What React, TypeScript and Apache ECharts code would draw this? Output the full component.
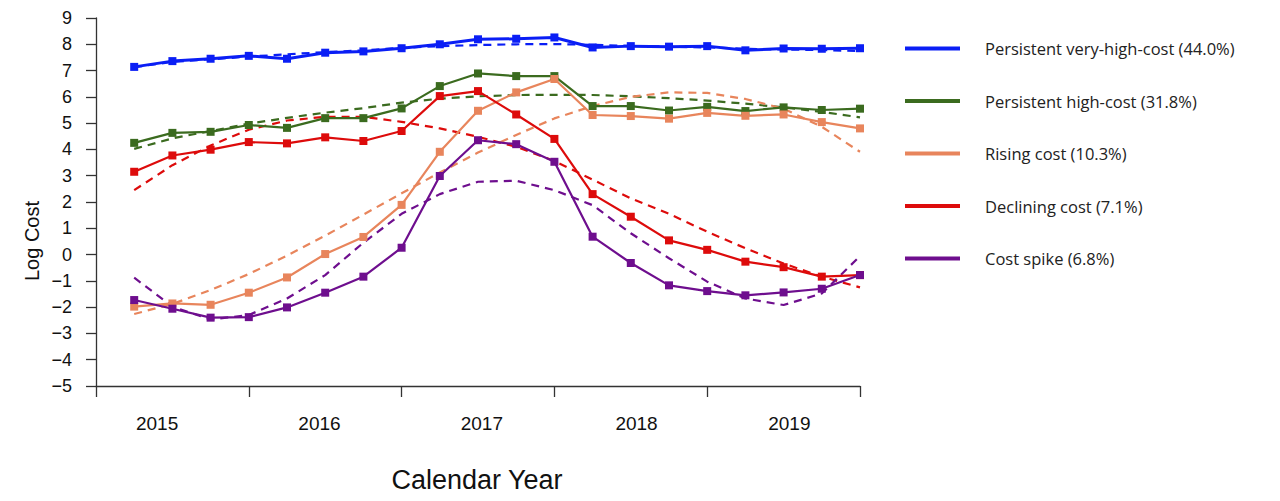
import React, { useEffect, useRef } from "react";
import * as echarts from "echarts";

// Quarter index (1..20), 2015 Q1 .. 2019 Q4
const quarters = [1, 2, 3, 4, 5, 6, 7, 8, 9, 10, 11, 12, 13, 14, 15, 16, 17, 18, 19, 20];
const yearLabels = ["2015", "2016", "2017", "2018", "2019"];
const yearLabelAt = [1.6, 5.85, 10.1, 14.15, 18.15];
const yearTicksAt = [0, 4, 8, 12, 16, 20];

const seriesNames = [
  "Persistent very-high-cost (44.0%)",
  "Persistent high-cost (31.8%)",
  "Rising cost (10.3%)",
  "Declining cost (7.1%)",
  "Cost spike (6.8%)",
];
const seriesColors = ["#0a1ef5", "#3b6b1f", "#e8855c", "#dd0b0b", "#6e0e8e"];

const veryHighObs = [7.14, 7.36, 7.45, 7.56, 7.45, 7.68, 7.73, 7.85, 8.0, 8.19, 8.21, 8.26, 7.88, 7.93, 7.91, 7.93, 7.77, 7.84, 7.83, 7.85];
const veryHighFit = [7.13, 7.33, 7.43, 7.53, 7.62, 7.7, 7.77, 7.86, 7.93, 7.97, 8.0, 8.01, 7.98, 7.94, 7.91, 7.88, 7.83, 7.8, 7.78, 7.74];
const highObs = [4.25, 4.63, 4.67, 4.93, 4.82, 5.19, 5.19, 5.56, 6.41, 6.89, 6.79, 6.79, 5.65, 5.65, 5.48, 5.62, 5.46, 5.6, 5.5, 5.55];
const highFit = [4.02, 4.42, 4.7, 4.98, 5.2, 5.4, 5.57, 5.78, 5.93, 6.02, 6.07, 6.08, 6.07, 6.02, 5.95, 5.86, 5.74, 5.6, 5.43, 5.22];
const risingObs = [-1.98, -1.86, -1.91, -1.45, -0.87, 0.02, 0.67, 1.89, 3.91, 5.47, 6.17, 6.68, 5.31, 5.27, 5.17, 5.39, 5.28, 5.33, 5.04, 4.8];
const risingFit = [-2.26, -1.88, -1.35, -0.74, -0.04, 0.72, 1.52, 2.33, 3.12, 3.88, 4.55, 5.18, 5.65, 6.0, 6.17, 6.15, 5.92, 5.55, 4.86, 3.91];
const decliningObs = [3.15, 3.77, 3.99, 4.28, 4.23, 4.46, 4.32, 4.7, 6.03, 6.22, 5.33, 4.4, 2.3, 1.44, 0.54, 0.18, -0.27, -0.48, -0.84, -0.78];
const decliningFit = [2.45, 3.4, 4.15, 4.75, 5.1, 5.24, 5.24, 5.05, 4.8, 4.48, 4.1, 3.56, 2.85, 2.14, 1.55, 0.87, 0.24, -0.34, -0.84, -1.25];
const spikeObs = [-1.73, -2.06, -2.4, -2.38, -2.01, -1.45, -0.84, 0.26, 2.99, 4.35, 4.2, 3.53, 0.68, -0.32, -1.17, -1.39, -1.55, -1.44, -1.3, -0.78];
const spikeFit = [-0.88, -1.98, -2.47, -2.3, -1.67, -0.78, 0.45, 1.55, 2.3, 2.77, 2.81, 2.45, 1.88, 0.81, -0.14, -1.03, -1.67, -1.92, -1.48, -0.06];

const observed = [veryHighObs, highObs, risingObs, decliningObs, spikeObs];
const fitted = [veryHighFit, highFit, risingFit, decliningFit, spikeFit];

export default function App() {
  const ref = useRef<HTMLDivElement>(null);
  useEffect(() => {
    if (!ref.current) return;
    const chart = echarts.init(ref.current, undefined, { renderer: "svg" });
    const toData = (vals: number[]) => quarters.map((q, i) => [q, vals[i]]);
    const series: any[] = [];
    fitted.forEach((vals, k) => {
      series.push({
        type: "line",
        name: seriesNames[k],
        data: toData(vals),
        symbol: "none",
        smooth: false,
        z: 2,
        lineStyle: { color: seriesColors[k], width: 2.2, type: [8, 6] },
        itemStyle: { color: seriesColors[k] },
      });
    });
    observed.forEach((vals, k) => {
      series.push({
        type: "line",
        name: seriesNames[k],
        data: toData(vals),
        symbol: "rect",
        symbolSize: 8,
        z: 3,
        lineStyle: { color: seriesColors[k], width: k === 0 ? 3 : 2.2 },
        itemStyle: { color: seriesColors[k] },
      });
    });

    chart.setOption({
      animation: false,
      backgroundColor: "#ffffff",
      grid: { left: 96, right: 420, top: 18, bottom: 115, containLabel: false },
      xAxis: {
        type: "value",
        min: 0,
        max: 20,
        axisLine: { show: true, onZero: false, lineStyle: { color: "#333", width: 1.3 } },
        axisTick: { show: true, customValues: yearTicksAt, length: 11, lineStyle: { color: "#333", width: 1.3 } },
        axisLabel: {
          show: true,
          customValues: yearLabelAt,
          margin: 28,
          formatter: (v: number) => {
            const idx = yearLabelAt.findIndex((p) => Math.abs(p - v) < 1e-6);
            return idx >= 0 ? yearLabels[idx] : "";
          },
          color: "#111",
          fontSize: 19,
          fontFamily: "'Liberation Sans Narrow', 'Liberation Sans', Arial, sans-serif",
        },
        splitLine: { show: false },
      },
      yAxis: {
        type: "value",
        min: -5,
        max: 9,
        interval: 1,
        axisLine: { show: true, onZero: false, lineStyle: { color: "#333", width: 1.3 } },
        axisTick: { show: true, length: 10, lineStyle: { color: "#333", width: 1.3 } },
        axisLabel: {
          margin: 24,
          color: "#111",
          fontSize: 18,
          fontFamily: "'Liberation Sans', Arial, sans-serif",
          formatter: (v: number) => (v < 0 ? "\u2212" + Math.abs(v) : String(v)),
        },
        splitLine: { show: false },
      },
      legend: {
        data: seriesNames,
        orient: "vertical",
        left: 900,
        top: 33,
        itemWidth: 55,
        itemHeight: 4,
        itemGap: 31.5,
        icon: "rect",
        textStyle: {
          fontFamily: "'Open Sans', sans-serif",
          fontSize: 16.5,
          color: "#222",
          lineHeight: 21,
          padding: [0, 0, 0, 20],
        },
        selectedMode: false,
      },
      graphic: [
        {
          type: "text",
          x: 32,
          y: 241,
          rotation: Math.PI / 2,
          style: {
            text: "Log Cost",
            font: "20px 'Liberation Sans', Arial, sans-serif",
            fill: "#111",
            align: "center",
            verticalAlign: "middle",
          },
        },
        {
          type: "text",
          x: 477,
          y: 480,
          style: {
            text: "Calendar Year",
            font: "27px 'Liberation Sans', Arial, sans-serif",
            fill: "#111",
            align: "center",
            verticalAlign: "middle",
          },
        },
      ],
      series,
    });
    return () => chart.dispose();
  }, []);
  return (
    <div
      ref={ref}
      style={{ position: "fixed", left: 0, top: 0, width: 1280, height: 501, background: "#fff" }}
    />
  );
}
